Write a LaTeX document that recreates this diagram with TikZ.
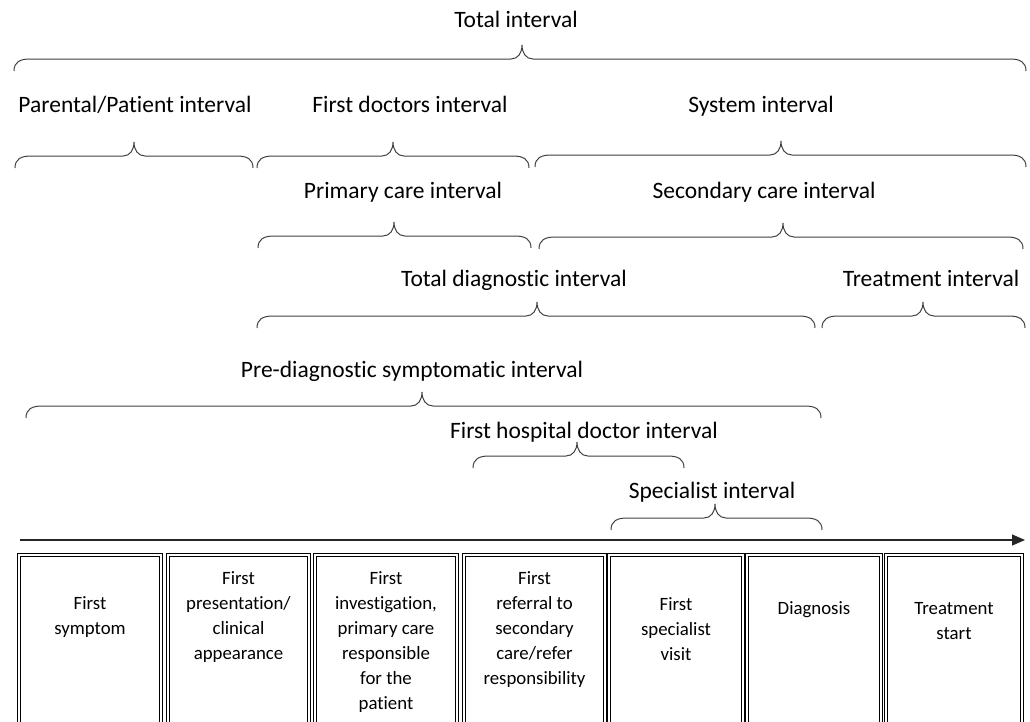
\documentclass[tikz,border=0pt]{standalone}
\usepackage{fontspec}
\setmainfont{Carlito}[Ligatures={NoCommon,NoContextual,NoRequired}, Contextuals=NoAlternate]
\usetikzlibrary{arrows.meta}
\tikzset{
  lbl/.style={font=\fontsize{23.5}{28}\selectfont, anchor=base, inner sep=0pt},
  evbox/.style={draw=black, double=white, double distance=1.1pt, line width=1.1pt, inner sep=0pt},
  evtext/.style={font=\fontsize{18.8}{25}\selectfont, align=center, anchor=north, inner sep=0pt},
  brace/.style={draw=black!75, line width=1pt},
  timeline/.style={draw=black!85, line width=1.2pt, -{Triangle[length=13pt,width=11pt]}}
}
\newcommand{\ibrace}[4]{%
  \draw[brace] (#1,#4+12) .. controls (#1,#4+3) and (#1+6,#4) .. (#1+16,#4)
    -- (#3-11,#4) .. controls (#3-4,#4) and (#3,#4-6) .. (#3,#4-14)
    .. controls (#3,#4-6) and (#3+4,#4) .. (#3+11,#4)
    -- (#2-16,#4) .. controls (#2-6,#4) and (#2,#4+3) .. (#2,#4+12);}
\begin{document}
\begin{tikzpicture}[x=1pt,y=-1pt]
\useasboundingbox (0,0) rectangle (1030,721);
\clip (0,0) rectangle (1030,721);
\fill[white] (0,0) rectangle (1030,721);

% labels
\node[lbl] (ltotal) at (516,27) {Total interval};
\node[lbl] (lparent) at (135,112) {Parental/Patient interval};
\node[lbl] (lfirstdoc) at (410,112) {First doctors interval};
\node[lbl] (lsystem) at (761,112) {System interval};
\node[lbl] (lprimary) at (403,198) {Primary care interval};
\node[lbl] (lsecondary) at (764,198) {Secondary care interval};
\node[lbl] (ltotdiag) at (514,286) {Total diagnostic interval};
\node[lbl] (ltreat) at (931,286) {Treatment interval};
\node[lbl] (lprediag) at (412,377) {Pre-diagnostic symptomatic interval};
\node[lbl] (lhosp) at (584,438) {First hospital doctor interval};
\node[lbl] (lspec) at (712,498) {Specialist interval};

% braces
\ibrace{14}{1026}{522}{59}
\ibrace{15}{253}{134}{156}
\ibrace{257}{529}{393}{156}
\ibrace{535}{1026}{781}{155}
\ibrace{258}{531}{394}{236}
\ibrace{539}{1023}{783}{237}
\ibrace{257}{815}{537}{316}
\ibrace{822}{1025}{923}{316}
\ibrace{26}{821}{422}{406}
\ibrace{473}{684}{577}{456}
\ibrace{611}{822}{715}{518}

% timeline arrow
\coordinate (tstart) at (20,540);
\coordinate (tend) at (1025,540);
\draw[timeline] (tstart) -- (tend);

% event boxes
\node[evbox, minimum width=142pt, minimum height=175pt] (b1) at (90,642.5) {};
\node[evbox, minimum width=141pt, minimum height=175pt] (b2) at (238.5,642.5) {};
\node[evbox, minimum width=142pt, minimum height=175pt] (b3) at (386,642.5) {};
\node[evbox, minimum width=141pt, minimum height=175pt] (b4) at (534.5,642.5) {};
\node[evbox, minimum width=134pt, minimum height=175pt] (b5) at (676,642.5) {};
\node[evbox, minimum width=134pt, minimum height=175pt] (b6) at (814,642.5) {};
\node[evbox, minimum width=136pt, minimum height=175pt] (b7) at (954,642.5) {};

\node[evtext] (t1) at (90,591.5) {\strut First\\symptom};
\node[evtext] (t2) at (238.5,566.5) {\strut First\\presentation/\\clinical\\appearance};
\node[evtext] (t3) at (386,566.5) {\strut First\\investigation,\\primary care\\responsible\\for the\\patient};
\node[evtext] (t4) at (534.5,566.5) {\strut First\\referral to\\secondary\\care/refer\\responsibility};
\node[evtext] (t5) at (676,592.5) {\strut First\\specialist\\visit};
\node[evtext] (t6) at (814,596.5) {\strut Diagnosis};
\node[evtext] (t7) at (954,596.5) {\strut Treatment\\start};
\end{tikzpicture}
\end{document}
